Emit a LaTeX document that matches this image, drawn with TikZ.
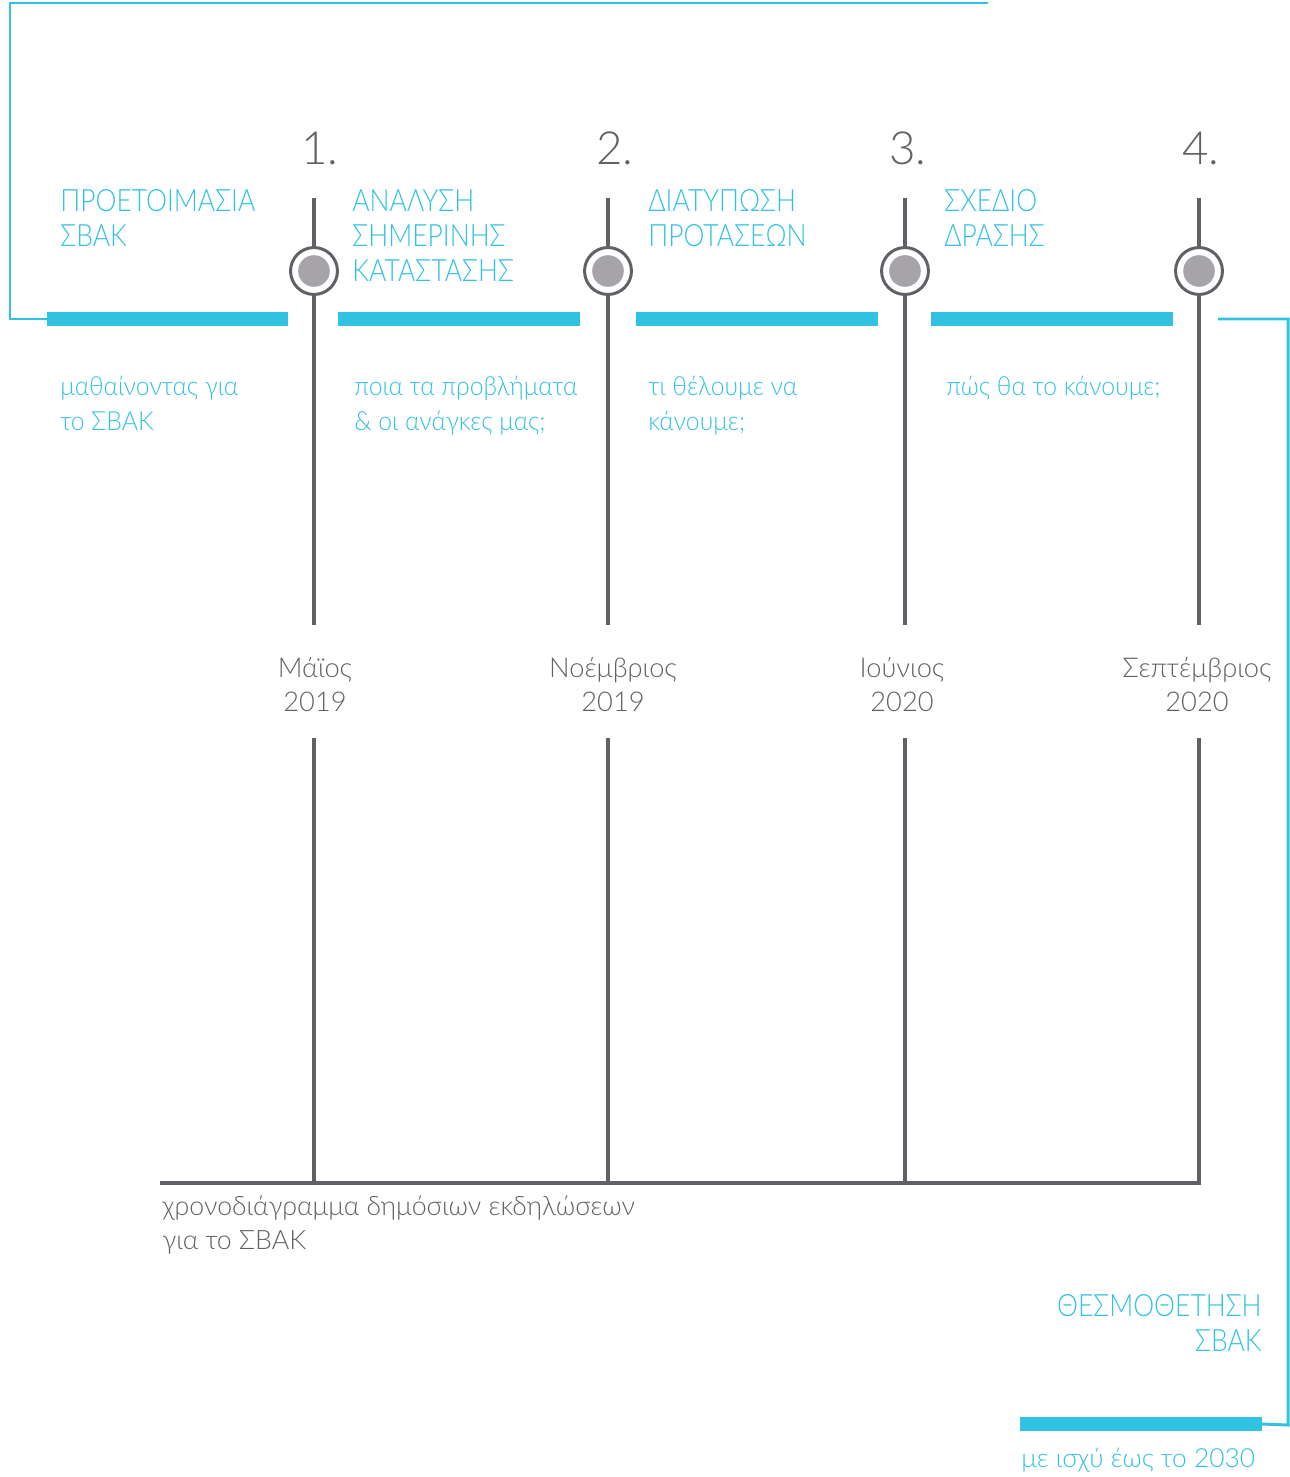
\documentclass[tikz,border=0pt]{standalone}
\usepackage{fontspec}
\setmainfont{Lato Light}
\newfontfamily\phasefont{Lato Light}[FakeStretch=0.86]
\newfontfamily\goalfont{Lato Light}[FakeStretch=0.94]
\usepackage{xcolor}
\definecolor{sbakcyan}{HTML}{31C2E1}
\definecolor{sbakgray}{HTML}{616066}
\definecolor{sbakdot}{HTML}{A6A4A9}
\tikzset{
  timeline/.style={draw=sbakgray,line width=1.8pt},
  link/.style={draw=sbakcyan,line width=1.7pt},
  phasebar/.style={draw=sbakcyan,line width=8pt},
  milestone/.style={circle,draw=sbakgray,line width=1.7pt,fill=white,minimum size=26.7pt,inner sep=0pt},
  core/.style={circle,fill=sbakdot,minimum size=18pt,inner sep=0pt},
  phase/.style={anchor=north west,inner sep=0pt,align=left,text=sbakcyan,font=\phasefont\fontsize{17.5}{19.9}\selectfont},
  goal/.style={anchor=north west,inner sep=0pt,align=left,text=sbakcyan,font=\goalfont\fontsize{15}{19.9}\selectfont},
  datelabel/.style={anchor=north,inner sep=0pt,align=center,text=sbakgray,font=\fontsize{15.5}{19.3}\selectfont},
  stepnum/.style={anchor=base west,inner sep=0pt,text=sbakgray,font=\fontsize{26}{30}\selectfont},
}

\begin{document}
\begin{tikzpicture}[x=0.02cm,y=-0.02cm]
    \useasboundingbox (0,0) rectangle (1290,1477);

    % milestones
    \node[milestone] (m1) at (314,271) {};
    \node[milestone] (m2) at (608,271) {};
    \node[milestone] (m3) at (905,271) {};
    \node[milestone] (m4) at (1199,271) {};
    \node[core] (dot1) at (m1) {};
    \node[core] (dot2) at (m2) {};
    \node[core] (dot3) at (m3) {};
    \node[core] (dot4) at (m4) {};

    \node[stepnum] (n1) at (301,164) {1.};
    \node[stepnum] (n2) at (596,164) {2.};
    \node[stepnum] (n3) at (889,164) {3.};
    \node[stepnum] (n4) at (1182,164) {4.};

    % stems
    \coordinate (s1) at (314,198);
    \coordinate (s2) at (608,198);
    \coordinate (s3) at (905,198);
    \coordinate (s4) at (1199,198);
    \coordinate (u1) at (314,625);
    \coordinate (u2) at (608,625);
    \coordinate (u3) at (905,625);
    \coordinate (u4) at (1199,625);
    \draw[timeline] (s1) -- (m1) (m1) -- (u1);
    \draw[timeline] (s2) -- (m2) (m2) -- (u2);
    \draw[timeline] (s3) -- (m3) (m3) -- (u3);
    \draw[timeline] (s4) -- (m4) (m4) -- (u4);

    \coordinate (l1) at (314,738);
    \coordinate (l2) at (608,738);
    \coordinate (l3) at (905,738);
    \coordinate (l4) at (1199,738);
    \coordinate (base) at (160,1183);
    \draw[timeline] (l4) |- (base);
    \draw[timeline] (l1) -- (l1 |- base);
    \draw[timeline] (l2) -- (l2 |- base);
    \draw[timeline] (l3) -- (l3 |- base);

    \node[datelabel] (d1) at (315,657) {Μάϊος\\2019};
    \node[datelabel] (d2) at (613,657) {Νοέμβριος\\2019};
    \node[datelabel] (d3) at (902,657) {Ιούνιος\\2020};
    \node[datelabel] (d4) at (1197,657) {Σεπτέμβριος\\2020};

    \node[anchor=north west,inner sep=0pt,align=left,text=sbakgray,font=\fontsize{15.2}{19.9}\selectfont]
      (caption) at (162,1195) {χρονοδιάγραμμα δημόσιων εκδηλώσεων\\για το ΣΒΑΚ};

    % phases
    \coordinate (b1w) at (47,319);  \coordinate (b1e) at (288,319);
    \coordinate (b2w) at (338,319); \coordinate (b2e) at (580,319);
    \coordinate (b3w) at (636,319); \coordinate (b3e) at (878,319);
    \coordinate (b4w) at (931,319); \coordinate (b4e) at (1173,319);
    \coordinate (b5w) at (1020,1424); \coordinate (b5e) at (1262,1424);
    \draw[phasebar] (b1w) -- (b1e);
    \draw[phasebar] (b2w) -- (b2e);
    \draw[phasebar] (b3w) -- (b3e);
    \draw[phasebar] (b4w) -- (b4e);
    \draw[phasebar] (b5w) -- (b5e);

    \node[phase] (p1) at (60,189) {ΠΡΟΕΤΟΙΜΑΣΙΑ\\ΣΒΑΚ};
    \node[phase] (p2) at (352,189) {ΑΝΑΛΥΣΗ\\ΣΗΜΕΡΙΝΗΣ\\ΚΑΤΑΣΤΑΣΗΣ};
    \node[phase] (p3) at (648,189) {ΔΙΑΤΥΠΩΣΗ\\ΠΡΟΤΑΣΕΩΝ};
    \node[phase] (p4) at (944,189) {ΣΧΕΔΙΟ\\ΔΡΑΣΗΣ};
    \node[phase,anchor=north east,align=right] (p5) at (1262,1294) {ΘΕΣΜΟΘΕΤΗΣΗ\\ΣΒΑΚ};

    \node[goal] (g1) at (60,376) {μαθαίνοντας για\\το ΣΒΑΚ};
    \node[goal] (g2) at (354,376) {ποια τα προβλήματα\\\& οι ανάγκες μας;};
    \node[goal] (g3) at (648,376) {τι θέλουμε να\\κάνουμε;};
    \node[goal] (g4) at (946,376) {πώς θα το κάνουμε;};
    \node[goal,anchor=base west,font=\fontsize{15}{19.9}\selectfont] (g5) at (1021,1467) {με ισχύ έως το 2030};

    % frame
    \coordinate (fc1) at (10,3);
    \coordinate (ftop) at (988,3);
    \coordinate (fs) at (1218,319);
    \coordinate (fc2) at (1288,1425);
    \draw[link] (b1w) -| (fc1) -- (ftop);
    \draw[link] (fs) -| (fc2) -- (b5e);
\end{tikzpicture}
\end{document}
